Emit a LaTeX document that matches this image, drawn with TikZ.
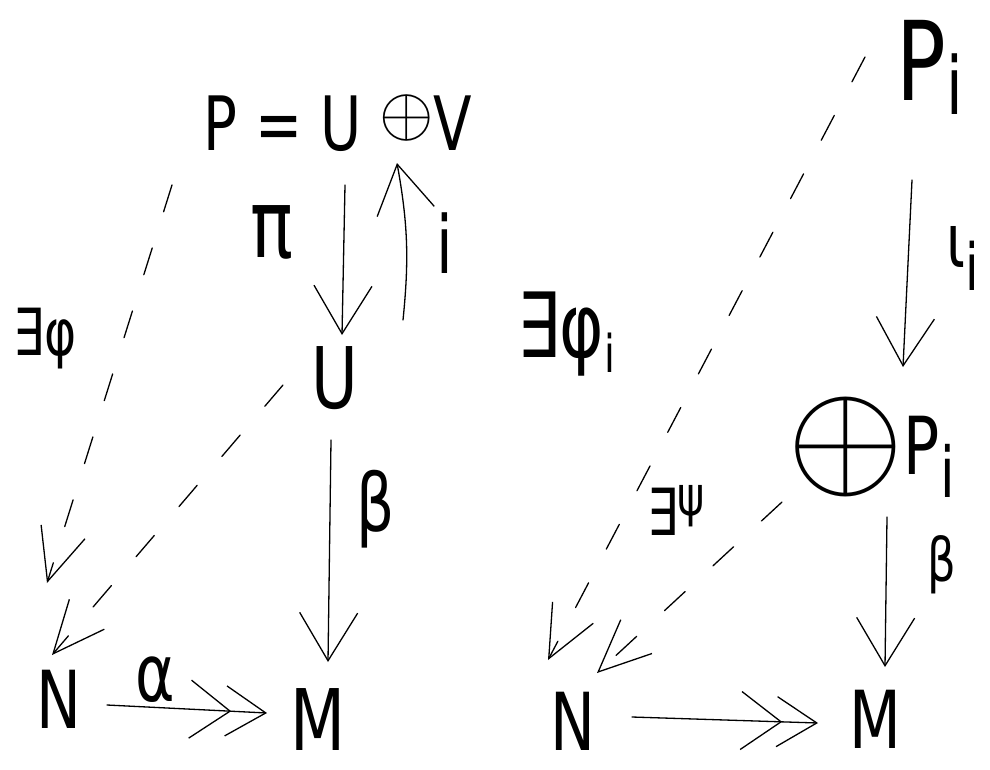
\documentclass[tikz,border=0pt]{standalone}
\usepackage{fontspec}
\setmainfont{DejaVu Sans}[FakeStretch=0.75]
\usetikzlibrary{arrows.meta}
\newcommand{\sbs}[3]{\raisebox{-#2pt}{\fontsize{#1}{#1}\selectfont #3}}
\newcommand{\hwoplus}[2]{\raisebox{#2pt}{\fontsize{10}{10}\selectfont\scalebox{#1}{$\oplus$}}}
\tikzset{
  hw/.style={inner sep=0pt, anchor=base},
  lbl/.style={inner sep=0pt, anchor=center},
  fs/.style={font=\fontsize{#1}{#1}\selectfont},
  pen/.style={line width=1.3pt, line cap=round},
  solidarr/.style={pen, -{Straight Barb[length=48pt,width=58pt,line width=1.3pt]}},
  dasharr/.style={pen, dash pattern=on 28pt off 38pt, -{Straight Barb[length=52pt,width=46pt,line width=1.3pt]}},
  surj/.style={pen, -{Straight Barb[length=40pt,width=58pt,line width=1.3pt,sep=-6pt] Straight Barb[length=40pt,width=50pt,line width=1.3pt]}}
}
\begin{document}
\begin{tikzpicture}[x=1pt,y=-1pt]
\fill[white] (0,0) rectangle (990,769);
\useasboundingbox (0,0) rectangle (990,769);
% left diagram objects
\node[hw,fs=75] (P) at (338,150) {P = U \hwoplus{7}{14.5}V};
\node[hw,fs=85] (U) at (335,408) {U};
\node[hw,fs=80] (N) at (59,728) {N};
\node[hw,fs=85] (M) at (318,750) {M};
% right diagram objects
\node[hw,fs=110] (Pi) at (930,100) {P\sbs{80}{14}{i}};
\node[hw,fs=80] (S) at (871,474) {\hwoplus{15}{-10}P\sbs{70}{23}{i}};
\node[hw,fs=80] (N2) at (573,750) {N};
\node[hw,fs=80] (M2) at (875,748) {M};
% left labels
\node[lbl,fs=95] (lpi) at (272,232) {π};
\node[lbl,fs=80] (li) at (445,243) {i};
\node[hw,fs=65] (lephi) at (45,355) {∃φ};
\node[lbl,fs=80] (lbeta) at (376,509) {β};
\node[lbl,fs=80] (lalpha) at (155,680) {α};
% right labels
\node[hw,fs=75,anchor=base west] (riota) at (946,267) {ι\sbs{65}{23}{i}};
\node[hw,fs=90] (rephi) at (566,357) {∃φ\sbs{52}{15}{i}};
\node[hw,fs=65] (repsi) at (676,535) {∃\raisebox{20pt}{\fontsize{55}{55}\selectfont ψ}};
\node[lbl,fs=60] (rbeta) at (942,565) {β};
% left connectors
\draw[solidarr] ([shift={(7,35)}]P.base) -- ([shift={(7,-73)}]U.base);
\draw[solidarr] ([shift={(68,-88)}]U.base) to[bend right=8] ([shift={(59,13)}]P.base);
\draw[dasharr] ([shift={(-166,35)}]P.base) -- ([shift={(-12,-145)}]N.base);
\draw[dasharr] ([shift={(-52,-23)}]U.base) -- ([shift={(-7,-73)}]N.base);
\draw[solidarr] ([shift={(-4,32)}]U.base) -- ([shift={(10,-88)}]M.base);
\draw[surj] ([shift={(48,-23)}]N.base) -- ([shift={(-51,-37)}]M.base);
% right connectors
\draw[dasharr] ([shift={(-65,-43)}]Pi.base) -- ([shift={(-25,-90)}]N2.base);
\draw[solidarr] ([shift={(-18,80)}]Pi.base) -- ([shift={(32,-107)}]S.base);
\draw[dasharr] ([shift={(-89,28)}]S.base) -- ([shift={(24,-77)}]N2.base);
\draw[solidarr] ([shift={(16,43)}]S.base) -- ([shift={(10,-81)}]M2.base);
\draw[surj] ([shift={(59,-33)}]N2.base) -- ([shift={(-57,-25)}]M2.base);
\end{tikzpicture}
\end{document}
